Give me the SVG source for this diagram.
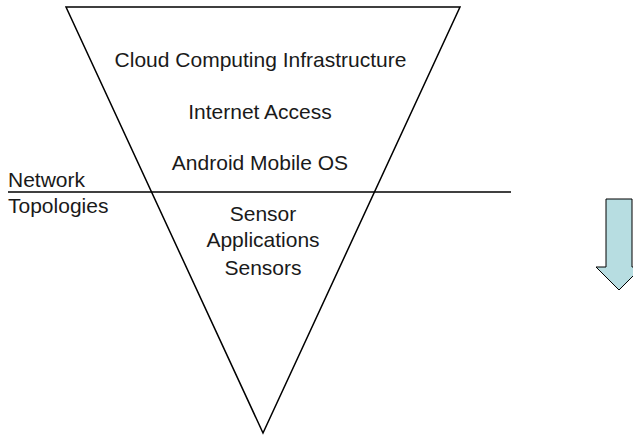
<svg xmlns="http://www.w3.org/2000/svg" width="633" height="436" viewBox="0 0 633 436">
  <style>
    .outline { fill: none; stroke: #000; stroke-width: 1.5; }
    .label { font-family: "Liberation Sans", Arial, sans-serif; font-size: 21px; fill: #1a1a1a; }
    .mid { text-anchor: middle; }
  </style>
  <rect width="633" height="436" fill="#fff"/>

  <!-- layer stack: inverted triangle -->
  <g id="pyramid">
    <polygon class="outline" points="66,7 460,7 263,433"/>
  </g>

  <g id="connectors">
    <!-- network topologies boundary -->
    <line x1="8" y1="192" x2="511" y2="192" stroke="#000" stroke-width="1.5"/>
  </g>

  <g id="layer-cloud">
    <text class="label mid" x="260.5" y="67">Cloud Computing Infrastructure</text>
  </g>
  <g id="layer-internet">
    <text class="label mid" x="260" y="119">Internet Access</text>
  </g>
  <g id="layer-android">
    <text class="label mid" x="260" y="170">Android Mobile OS</text>
  </g>
  <g id="layer-apps">
    <text class="label mid" x="263" y="221">Sensor</text>
    <text class="label mid" x="263" y="247">Applications</text>
  </g>
  <g id="layer-sensors">
    <text class="label mid" x="263" y="275">Sensors</text>
  </g>
  <g id="network-label">
    <text class="label" x="8" y="187">Network</text>
    <text class="label" x="8" y="213">Topologies</text>
  </g>

  <!-- downward direction arrow -->
  <g id="direction-arrow">
    <polygon points="606,199 632,199 632,267 642,267 619,290 596,267 606,267" fill="#b7dde1" stroke="#000" stroke-width="1"/>
  </g>
</svg>
